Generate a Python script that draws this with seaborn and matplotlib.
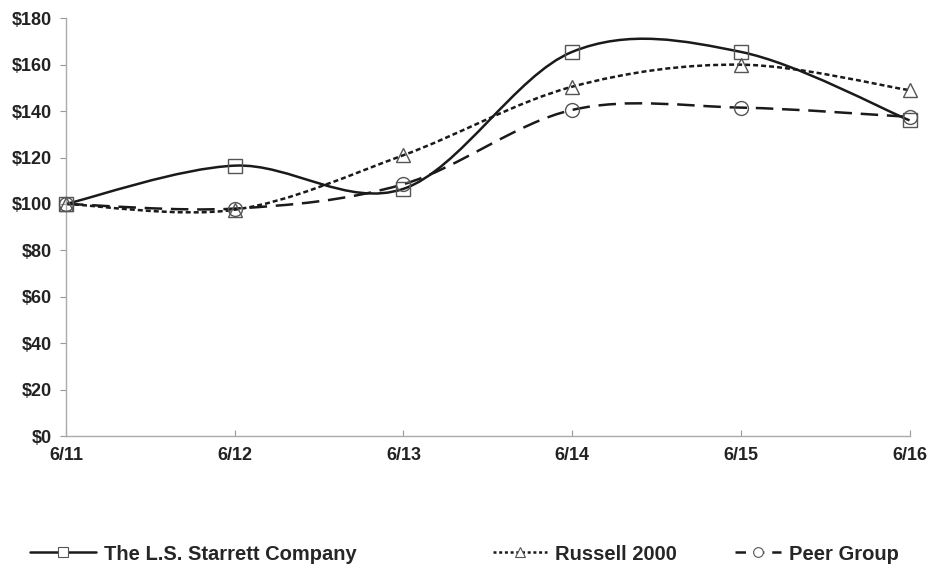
import numpy as np
import pandas as pd
import matplotlib
matplotlib.use("Agg")
import matplotlib.pyplot as plt
from matplotlib.path import Path
from matplotlib.patches import PathPatch
from matplotlib.lines import Line2D
import seaborn as sns

# data
periods = ["6/11", "6/12", "6/13", "6/14", "6/15", "6/16"]
starrett = [100, 116.5, 106.5, 165.5, 165.5, 136]
russell = [100, 97.5, 121, 150.5, 160, 149]
peer = [100, 98, 108.5, 140.5, 141.5, 137.5]
series_names = ["The L.S. Starrett Company", "Russell 2000", "Peer Group"]

sns.set_theme(style="white")
plt.rcParams["font.family"] = ["Liberation Sans", "DejaVu Sans"]
plt.rcParams["font.weight"] = "bold"

fig = plt.figure(figsize=(9.3, 5.7), dpi=100)
ax = fig.add_axes([0.071, 0.235, 0.907, 0.733])

styles = {
    "The L.S. Starrett Company": dict(marker="s", dash=None, ms=10),
    "Russell 2000": dict(marker="^", dash=(2, 1.2), ms=10),
    "Peer Group": dict(marker="o", dash=(7, 3.5), ms=10),
}

df = pd.DataFrame({"period": periods * 3,
                   "x": list(range(len(periods))) * 3,
                   "value": starrett + russell + peer,
                   "series": np.repeat(series_names, len(periods))})


def smooth_path(xs, ys):
    # Excel-style smoothed line: cubic Bezier segments (Catmull-Rom control points)
    pts = np.column_stack([xs, ys]).astype(float)
    ext = np.vstack([pts[0], pts, pts[-1]])
    verts = [tuple(pts[0])]
    codes = [Path.MOVETO]
    for i in range(len(pts) - 1):
        p0, p1, p2, p3 = ext[i], ext[i + 1], ext[i + 2], ext[i + 3]
        c1 = p1 + (p2 - p0) / 6
        c2 = p2 - (p3 - p1) / 6
        verts += [tuple(c1), tuple(c2), tuple(p2)]
        codes += [Path.CURVE4] * 3
    return Path(verts, codes)


handles = []
for name in series_names:
    sub = df[df["series"] == name]
    st = styles[name]
    patch = PathPatch(smooth_path(sub["x"], sub["value"]), fill=False,
                      edgecolor="#1a1a1a", lw=1.8, zorder=2, clip_on=False)
    if st["dash"] is not None:
        patch.set_linestyle((0, st["dash"]))
    ax.add_patch(patch)
    sns.lineplot(data=sub, x="x", y="value", ax=ax, marker=st["marker"],
                 markersize=st["ms"], markerfacecolor="none",
                 markeredgecolor="#555555", markeredgewidth=1.0,
                 linewidth=0, legend=False, zorder=3, clip_on=False)
    leg_dash = st["dash"] if st["dash"] is None else (st["dash"][0] * 0.6, st["dash"][1] * 0.9)
    handles.append(Line2D([0], [0], color="#1a1a1a", lw=1.8,
                          linestyle="-" if leg_dash is None else (0, leg_dash),
                          marker=st["marker"], markersize=7,
                          markerfacecolor="white", markeredgecolor="#555555",
                          markeredgewidth=0.8))

ax.set_xlim(0, len(periods) - 1)
ax.set_ylim(0, 180)
ax.set_xticks(range(len(periods)))
ax.set_xticklabels(periods)
ax.set_yticks(range(0, 181, 20))
ax.set_yticklabels([f"${v}" for v in range(0, 181, 20)])
ax.set_xlabel("")
ax.set_ylabel("")
ax.tick_params(axis="both", labelsize=13, colors="#222222")
ax.tick_params(axis="y", length=4, width=0.8, color="#999999", left=True, pad=6)
ax.tick_params(axis="x", length=4, width=0.8, color="#999999", direction="in",
               bottom=True, pad=8)
for lab in ax.get_xticklabels() + ax.get_yticklabels():
    lab.set_fontweight("bold")

for side in ["top", "right"]:
    ax.spines[side].set_visible(False)
for side in ["left", "bottom"]:
    ax.spines[side].set_color("#aaaaaa")
    ax.spines[side].set_linewidth(1.0)

# three separate legend entries spread along the bottom
legend_pos = [(0.032, 3.3), (0.530, 2.7), (0.790, 2.3)]
for h, name, (xa, hl) in zip(handles, series_names, legend_pos):
    fig.legend([h], [name], loc="center left", bbox_to_anchor=(xa, 0.028),
               frameon=False, handlelength=hl, handletextpad=0.4,
               borderpad=0, borderaxespad=0,
               prop={"size": 14.5, "weight": "bold"})

fig.savefig("out.png", dpi=100, facecolor="white")
